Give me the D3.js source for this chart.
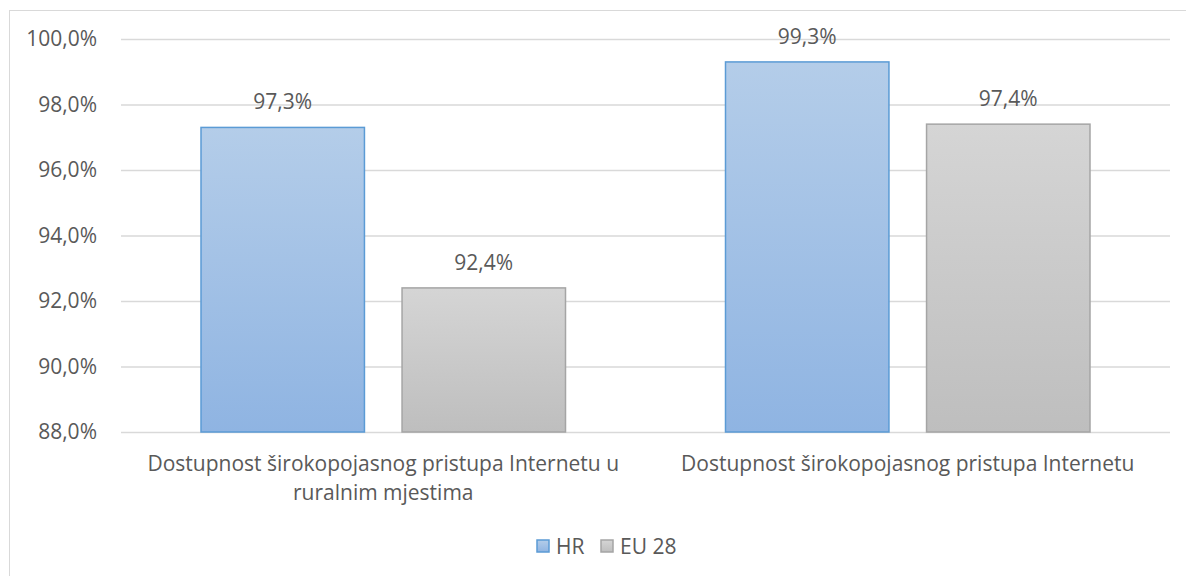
<!DOCTYPE html>
<html>
<head>
<meta charset="utf-8">
<script src="https://cdn.jsdelivr.net/npm/d3@7"></script>
<style>
  body { margin: 0; background: #fff; }
  text { font-family: "Open Sans", sans-serif; fill: #595959; }
</style>
</head>
<body>
<svg id="chart" width="1186" height="576"></svg>
<script>
var categories = ["Dostupnost širokopojasnog pristupa Internetu u ruralnim mjestima",
	"Dostupnost širokopojasnog pristupa Internetu"];
var series = ["HR", "EU 28"];
var hrValues = [97.3, 99.3];
var euValues = [92.4, 97.4];
var yTicks = [88, 90, 92, 94, 96, 98, 100];

var fills = [["#b4cde9", "#8fb4e2"], ["#d5d5d5", "#bebebe"]];
var strokes = ["#5b9bd5", "#a5a5a5"];

var margin = {top: 39, right: 16, bottom: 144, left: 121},
	width = 1186 - margin.left - margin.right,
	height = 576 - margin.top - margin.bottom;

var svg = d3.select("#chart");

// outer chart border
svg.append("rect")
	.attr("x", 9.5).attr("y", 10.5)
	.attr("width", 1190).attr("height", 600)
	.attr("fill", "none")
	.attr("stroke", "#d9d9d9");

var g = svg.append("g")
	.attr("transform", "translate(" + margin.left + "," + margin.top + ")");

var y = d3.scaleLinear().domain([88, 100]).range([height, 0]);

var x0 = d3.scaleBand().domain(categories).range([0, width]).padding(0);
var x1 = d3.scaleBand().domain(series)
	.range([80, x0.bandwidth() - 80])
	.paddingInner(0.187).paddingOuter(0);

var fmt = function(v) { return d3.format(".1f")(v).replace(".", ",") + "%"; };

// grid
g.append("g")
	.call(d3.axisLeft(y).tickValues(yTicks).tickSize(-width).tickFormat(""))
	.call(function(a) {
		a.select(".domain").remove();
		a.selectAll("line").attr("stroke", "#d9d9d9").attr("stroke-width", 1.5);
	});

// y labels
g.append("g")
	.call(d3.axisLeft(y).tickValues(yTicks).tickSize(0).tickPadding(24).tickFormat(fmt))
	.call(function(a) {
		a.select(".domain").remove();
		a.selectAll("text").style("font-size", "21px").attr("fill", "#595959");
	});

// gradients
var defs = svg.append("defs");
series.forEach(function(s, i) {
	var lg = defs.append("linearGradient")
		.attr("id", "grad" + i)
		.attr("x1", 0).attr("y1", 0).attr("x2", 0).attr("y2", 1);
	lg.append("stop").attr("offset", "0%").attr("stop-color", fills[i][0]);
	lg.append("stop").attr("offset", "100%").attr("stop-color", fills[i][1]);
});

var rows = categories.map(function(c, i) {
	return {cat: c, values: [hrValues[i], euValues[i]]};
});

var cat_g = g.selectAll(".category")
	.data(rows)
	.enter().append("g")
	.attr("class", "category")
	.attr("transform", function(d) { return "translate(" + x0(d.cat) + ",0)"; });

var bar_g = cat_g.selectAll(".bar")
	.data(function(d) {
		return d.values.map(function(v, i) { return {key: series[i], i: i, value: v}; });
	})
	.enter().append("g")
	.attr("class", "bar");

bar_g.append("rect")
	.attr("x", function(d) { return x1(d.key); })
	.attr("y", function(d) { return y(d.value); })
	.attr("width", x1.bandwidth())
	.attr("height", function(d) { return height - y(d.value); })
	.attr("fill", function(d) { return "url(#grad" + d.i + ")"; })
	.attr("stroke", function(d) { return strokes[d.i]; })
	.attr("stroke-width", 1.5);

bar_g.append("text")
	.attr("x", function(d) { return x1(d.key) + x1.bandwidth() / 2; })
	.attr("y", function(d) { return y(d.value) - 18; })
	.attr("text-anchor", "middle")
	.style("font-size", "21px")
	.text(function(d) { return fmt(d.value); });

// category axis
var xAxis = g.append("g")
	.attr("transform", "translate(0," + height + ")")
	.call(d3.axisBottom(x0).tickSize(0).tickPadding(24));
xAxis.select(".domain").remove();
xAxis.selectAll("text")
	.style("font-size", "21px")
	.attr("fill", "#595959")
	.call(wrap, x0.bandwidth() - 30);

function wrap(texts, w) {
	texts.each(function() {
		var text = d3.select(this),
			words = text.text().split(/\s+/),
			line = [],
			lineNo = 0,
			yy = text.attr("y"),
			dy = parseFloat(text.attr("dy")),
			tspan = text.text(null).append("tspan").attr("x", 0).attr("y", yy).attr("dy", dy + "em");
		words.forEach(function(word) {
			line.push(word);
			tspan.text(line.join(" "));
			if (tspan.node().getComputedTextLength() > w && line.length > 1) {
				line.pop();
				tspan.text(line.join(" "));
				line = [word];
				lineNo++;
				tspan = text.append("tspan").attr("x", 0).attr("y", yy)
					.attr("dy", (dy + lineNo * 1.4) + "em").text(word);
			}
		});
	});
}

// legend
var legend = svg.append("g").attr("class", "legend");
var legX = [537, 601];
series.forEach(function(s, i) {
	legend.append("rect")
		.attr("x", legX[i]).attr("y", 540)
		.attr("width", 12).attr("height", 12)
		.attr("fill", "url(#grad" + i + ")")
		.attr("stroke", strokes[i]).attr("stroke-width", 1.5);
	legend.append("text")
		.attr("x", legX[i] + 19).attr("y", 554)
		.style("font-size", "21px")
		.text(s);
});
</script>
</body>
</html>
